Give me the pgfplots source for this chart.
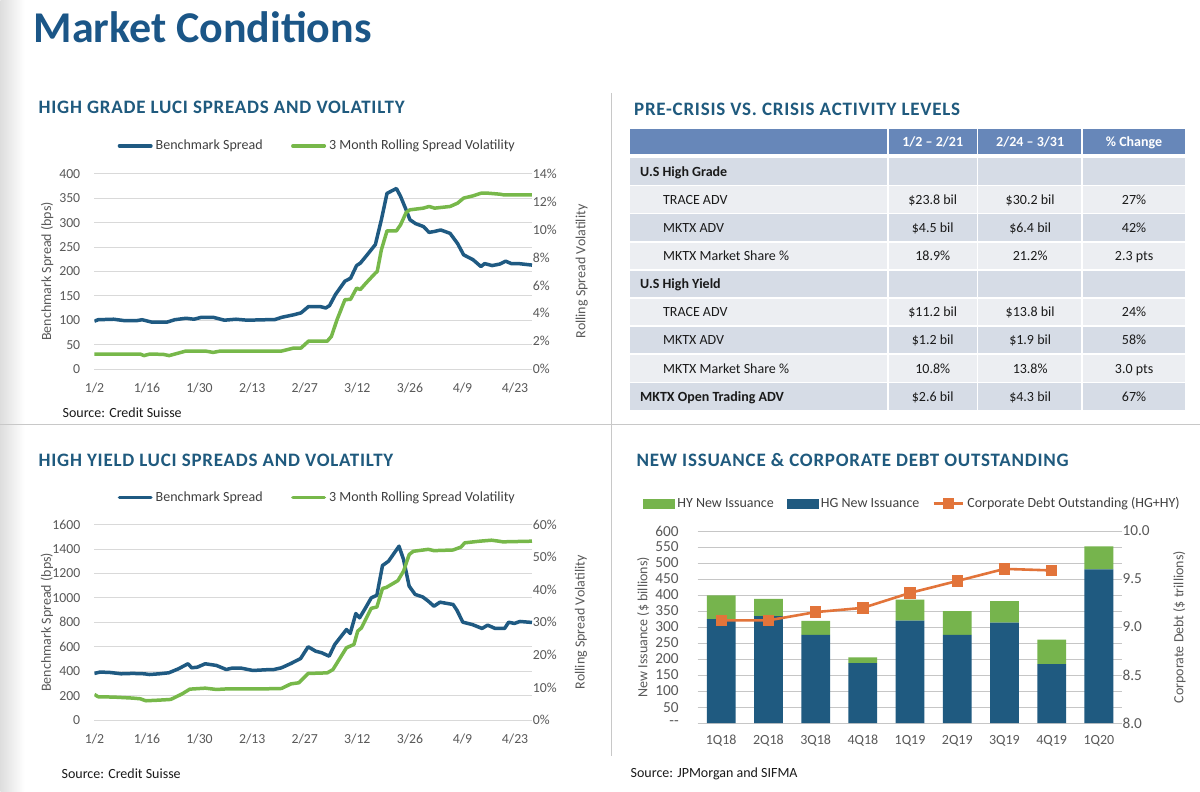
\documentclass[border=0pt]{standalone}
\usepackage{fontspec}
\setmainfont{Carlito}
\newfontfamily\secfont[LetterSpace=4]{Carlito}
\usepackage{pgfplots}
\pgfplotsset{compat=1.18}
\usepackage{pgfplotstable}
\definecolor{titleblue}{HTML}{1B5687}
\definecolor{secblue}{HTML}{1F5A7E}
\definecolor{lblue}{HTML}{1F5A82}
\definecolor{lgreen}{HTML}{77B84A}
\definecolor{bblue}{HTML}{1F5A80}
\definecolor{bgreen}{HTML}{76B44D}
\definecolor{dorange}{HTML}{E2743A}
\definecolor{gridgray}{HTML}{D9D9D9}
\definecolor{gridgray2}{HTML}{C6C6C6}
\definecolor{tickgray}{HTML}{595959}
\definecolor{legtext}{HTML}{404040}
\definecolor{hdrblue}{HTML}{6787B9}
\definecolor{rowdark}{HTML}{D6DCE6}
\definecolor{rowlight}{HTML}{ECEEF2}
\definecolor{divgray}{HTML}{C8C8C8}
\definecolor{tabtext}{HTML}{1A1A1A}

\pgfplotsset{
  lineax/.style={
    scale only axis, anchor=south west,
    axis line style={draw=none}, major tick length=0pt, tick style={draw=none},
    /pgf/number format/assume math mode=true, /pgf/number format/1000 sep={},
    ticklabel style={font=\fontsize{13.8}{16}\selectfont, text=tickgray, inner sep=0pt},
    ylabel style={font=\fontsize{14}{16}\selectfont, text=tickgray, anchor=center},
    grid style={gridgray, line width=0.9pt},
    xmin=0, xmax=116.6,
    xticklabel style={anchor=center, yshift=-19pt},
    yticklabel style={anchor=east, xshift=-14pt},
  },
  leg/.style={legend cell align=left,
    legend style={anchor=west, draw=none, fill=none, inner sep=0pt, outer sep=0pt,
      font=\fontsize{14}{16}\selectfont,
      nodes={inner sep=0pt, font=\fontsize{14}{16}\selectfont, text=legtext},
      /tikz/every odd column/.append style={column sep=3pt},
      /tikz/every even column/.append style={column sep=#1}}},
  lineimg/.style={legend image code/.code={\draw[##1, line cap=round] (0pt,0pt) -- (31.5pt,0pt);}},
  markimg/.style={legend image code/.code={\draw[mark repeat=2, mark phase=2, ##1] plot coordinates {(0pt,0pt) (14.7pt,0pt) (29.4pt,0pt)};}},
  hyimg/.style={legend image code/.code={\fill[bgreen] (0pt,-4.2pt) rectangle (30.7pt,4.2pt);}},
  hgimg/.style={legend image code/.code={\fill[bblue] (0pt,-4.2pt) rectangle (30.7pt,4.2pt);}},
}

\pgfplotstableread{
d v
0 98
1 101
5.1 102
8.1 99
11.2 99
12.7 101
15.3 96
19.3 96
21.4 101
24.4 104
26.5 102
28.5 106
31.6 106
34.6 100
37.7 102
40.7 100
45.8 101
47.9 101
49.9 106
53 111
55 115
57 128
60.1 128
61.6 125
62.6 130
64.2 153
66.7 180
68.2 186
69.8 212
70.8 217
72.3 231
74.8 255
76.4 306
77.9 360
80.4 370
81.5 354
83 326
84 306
85.5 298
87.6 292
89.1 280
90.6 282
92.2 285
94.7 278
96.7 257
98.3 234
100.8 224
102.9 210
103.9 216
105.9 212
107.9 215
109.5 221
111 216
113 216
116.5 213
}\hgspread

\pgfplotstableread{
d v
0 1.07
12.2 1.07
13.2 0.96
14.7 1.07
18.3 1.05
19.9 0.96
21.4 1.07
24.4 1.29
29.5 1.29
31.6 1.19
33.6 1.29
49.9 1.29
53 1.5
55 1.5
57 2.0
62 2.0
63.1 2.34
64.6 3.54
66.7 4.97
68.2 5.0
69.8 5.8
70.8 5.7
72.3 6.16
74.8 6.88
75.3 7.0
76.4 8.55
77.9 9.91
80.4 9.91
81.5 10.34
83 11.23
84 11.42
87.6 11.54
89.1 11.66
90.6 11.54
94.7 11.66
96.7 11.9
98.3 12.26
100.8 12.42
102.9 12.61
104.9 12.61
108 12.54
109 12.49
116.5 12.49
}\hgvol

\pgfplotstableread{
d v
0 382
1.5 393
4.1 390
7.1 379
10.2 382
13.2 379
14.7 373
17.3 379
19.8 387
22.4 420
24.9 461
25.9 428
27.4 433
29.5 461
32.5 447
35.1 414
36.6 425
39.1 425
42.2 406
45.7 412
47.8 414
49.8 428
52.3 463
54.9 504
56.9 600
58.9 564
60.5 551
62.5 523
64 619
67.1 741
68.1 709
69.6 872
70.6 837
72.2 919
73.7 1000
75.2 1022
76.7 1265
78.3 1300
81.1 1423
82.3 1314
83.8 1096
85.4 1028
87.4 1008
88.9 973
90.4 932
92 965
94 954
95.5 946
96.5 900
98.1 801
100.6 782
103.2 750
104.7 777
106.7 750
109.2 750
110.3 801
111.8 791
113.3 807
116.5 799
}\hyspread

\pgfplotstableread{
d v
0 7.87
1 7.16
5.1 7.06
10.2 6.75
12.2 6.54
13.7 5.93
17.3 6.13
20.3 6.34
21.8 7.16
23.4 8.08
25.4 9.5
29.5 9.8
32.5 9.4
35.6 9.6
45.7 9.6
49.8 9.7
52.3 11.1
54.4 11.45
56.9 14.3
62 14.5
63.5 15.5
67.1 22.2
69.1 23.2
70.1 27.3
71.1 28.3
73.7 34.3
75.2 34.7
76.7 40.4
77.7 40.7
80.8 42.8
82.3 45.7
83.8 50.8
84.9 51.8
88.9 52.4
90.4 52.0
95.5 52.2
97.6 53.1
98.6 54.4
102.6 54.9
105.7 55.2
107.7 54.9
108.7 54.7
116.5 54.9
}\hyvol

\newcommand\tabfont{\fontsize{14}{16}\selectfont}
\newcommand\tl[3]{\node[anchor=base west,inner sep=0pt,font=\tabfont,text=tabtext] at (#1,#2) {#3};}
\newcommand\tc[3]{\node[anchor=base,inner sep=0pt,font=\tabfont,text=tabtext] at (#1,#2) {#3};}
\newcommand\tv[4]{\tc{933}{#1}{#2}\tc{1030.5}{#1}{#3}\tc{1134.5}{#1}{#4}}

\begin{document}
\begin{tikzpicture}[x=1pt,y=1pt]
\fill[white] (0,0) rectangle (1200,792);
\shade[left color=black!13, right color=white] (0,0) rectangle (24,792);
\draw[divgray, line width=1pt] (611.5,792-93) -- (611.5,792-757);
\draw[divgray, line width=1pt] (0,792-425) -- (1200,792-425);

% titles
\node[anchor=base west, inner sep=0pt, text=titleblue, font=\fontsize{44}{50}\selectfont\bfseries] at (33,792-43) {Market Conditions};
\node[anchor=base west, inner sep=0pt, text=secblue, font=\secfont\fontsize{19}{22}\selectfont\bfseries] at (38,792-114) {HIGH GRADE LUCI SPREADS AND VOLATILTY};
\node[anchor=base west, inner sep=0pt, text=secblue, font=\secfont\fontsize{19}{22}\selectfont\bfseries] at (38,792-467) {HIGH YIELD LUCI SPREADS AND VOLATILTY};
\node[anchor=base west, inner sep=0pt, text=secblue, font=\secfont\fontsize{19}{22}\selectfont\bfseries] at (634,792-116) {PRE-CRISIS VS. CRISIS ACTIVITY LEVELS};
\node[anchor=base west, inner sep=0pt, text=secblue, font=\secfont\fontsize{19}{22}\selectfont\bfseries] at (636.5,792-467) {NEW ISSUANCE \& CORPORATE DEBT OUTSTANDING};

% sources
\node[anchor=west, inner sep=0pt, font=\tabfont, text=tabtext] at (62,792-412.7) {Source: Credit Suisse};
\node[anchor=west, inner sep=0pt, font=\tabfont, text=tabtext] at (61,792-774.3) {Source: Credit Suisse};
\node[anchor=west, inner sep=0pt, font=\tabfont, text=tabtext] at (630.5,792-774) {Source: JPMorgan and SIFMA};

% ---------- HG chart ----------
\begin{axis}[lineax, leg=28.5pt, lineimg, legend columns=2,
  at={(94pt,422.7pt)}, width=438.3pt, height=195.3pt,
  ymin=0, ymax=400, ytick={0,50,...,400},
  xtick={0,14,...,112}, xticklabels={1/2,1/16,1/30,2/13,2/27,3/12,3/26,4/9,4/23},
  ymajorgrids, ylabel={Benchmark Spread (bps)},
  ylabel style={at={(axis description cs:-0.1079,0.5)}},
  legend style={at={(axis description cs:0.0532,1.1434)}}]
\addplot[lblue, line width=3.5pt, line join=round] table[x=d,y=v]{\hgspread};
\addlegendentry{Benchmark Spread}
\addlegendimage{lgreen, line width=3.5pt}
\addlegendentry{3 Month Rolling Spread Volatility}
\end{axis}
\begin{axis}[lineax, at={(94pt,422.7pt)}, width=438.3pt, height=195.3pt,
  ymin=0, ymax=14, ytick={0,2,...,14}, xtick=\empty, axis x line=none, axis y line*=right,
  yticklabel={\pgfmathprintnumber{\tick}\%}, yticklabel style={anchor=west, xshift=14.4pt},
  ylabel={Rolling Spread Volatility},
  ylabel style={at={(axis description cs:1.1127,0.5)}, anchor=center}]
\addplot[lgreen, line width=3.5pt, line join=round] table[x=d,y=v]{\hgvol};
\end{axis}

% ---------- HY chart ----------
\begin{axis}[lineax, leg=28.5pt, lineimg, legend columns=2,
  at={(94pt,71.3pt)}, width=438.3pt, height=195.7pt,
  ymin=0, ymax=1600, ytick={0,200,...,1600},
  xtick={0,14,...,112}, xticklabels={1/2,1/16,1/30,2/13,2/27,3/12,3/26,4/9,4/23},
  ymajorgrids, ylabel={Benchmark Spread (bps)},
  ylabel style={at={(axis description cs:-0.1085,0.5)}},
  legend style={at={(axis description cs:0.0532,1.1395)}}]
\addplot[lblue, line width=3.5pt, line join=round] table[x=d,y=v]{\hyspread};
\addlegendentry{Benchmark Spread}
\addlegendimage{lgreen, line width=3.5pt}
\addlegendentry{3 Month Rolling Spread Volatility}
\end{axis}
\begin{axis}[lineax, at={(94pt,71.3pt)}, width=438.3pt, height=195.7pt,
  ymin=0, ymax=60, ytick={0,10,...,60}, xtick=\empty, axis x line=none, axis y line*=right,
  yticklabel={\pgfmathprintnumber{\tick}\%}, yticklabel style={anchor=west, xshift=14.4pt},
  ylabel={Rolling Spread Volatility},
  ylabel style={at={(axis description cs:1.111,0.5)}, anchor=center}]
\addplot[lgreen, line width=3.5pt, line join=round] table[x=d,y=v]{\hyvol};
\end{axis}

% ---------- Issuance chart ----------
\begin{axis}[lineax, at={(697.7pt,68.3pt)}, width=425.2pt, height=192.2pt,
  xmin=-0.5, xmax=8.5, ymin=0, ymax=600, ybar stacked, bar width=28.8pt,
  ytick={0,50,...,600}, yticklabels={{-{}-},50,100,150,200,250,300,350,400,450,500,550,600},
  yticklabel style={font=\fontsize{15.3}{17}\selectfont, xshift=-4.7pt},
  xtick={0,...,8}, xticklabels={1Q18,2Q18,3Q18,4Q18,1Q19,2Q19,3Q19,4Q19,1Q20},
  xticklabel style={font=\fontsize{14}{16}\selectfont, yshift=1pt},
  ymajorgrids, grid style={gridgray2, line width=0.9pt},
  ylabel={New Issuance (\$ billions)},
  ylabel style={at={(axis description cs:-0.128,0.5)}}]
\addplot[fill=bblue, draw=none] coordinates {(0,325) (1,334) (2,276) (3,187) (4,320) (5,276) (6,314) (7,184) (8,480)};
\addplot[fill=bgreen, draw=none] coordinates {(0,74) (1,54) (2,43) (3,18) (4,66) (5,74) (6,67) (7,77) (8,72)};
\end{axis}
\begin{axis}[lineax, leg=13pt, legend columns=3, at={(697.7pt,68.3pt)}, width=425.2pt, height=192.2pt,
  xmin=-0.5, xmax=8.5, ymin=8, ymax=10, ytick={8,8.5,...,10}, xtick=\empty, axis x line=none, axis y line*=right,
  yticklabel style={anchor=west, xshift=13.9pt, font=\fontsize{15.3}{17}\selectfont, /pgf/number format/fixed, /pgf/number format/fixed zerofill, /pgf/number format/precision=1},
  ylabel={Corporate Debt (\$ trillions)},
  ylabel style={at={(axis description cs:1.134,0.5)}, anchor=center},
  legend style={at={(axis description cs:-0.128,1.143)}}]
\addlegendimage{hyimg}
\addlegendentry{HY New Issuance}
\addlegendimage{hgimg}
\addlegendentry{HG New Issuance}
\addplot[dorange, line width=2.6pt, mark=square*, mark size=4.4pt, mark options={solid}, markimg]
  coordinates {(0,9.07) (1,9.07) (2,9.156) (3,9.20) (4,9.356) (5,9.48) (6,9.606) (7,9.59)};
\addlegendentry{Corporate Debt Outstanding (HG+HY)}
\end{axis}

% ---------- table ----------
\fill[hdrblue] (629.8,638) rectangle (887,662.7);
\fill[hdrblue] (889.3,638) rectangle (977,662.7);
\fill[hdrblue] (978.7,638) rectangle (1081.7,662.7);
\fill[hdrblue] (1083.3,638) rectangle (1185.7,662.7);
\foreach \i in {0,...,8}{
  \pgfmathsetmacro\yt{633.7-28.17*\i}
  \pgfmathsetmacro\yb{\yt-26.4}
  \ifodd\i \def\rc{rowlight}\else\def\rc{rowdark}\fi
  \fill[\rc] (629.8,\yb) rectangle (887,\yt);
  \fill[\rc] (889.3,\yb) rectangle (977,\yt);
  \fill[\rc] (978.7,\yb) rectangle (1081.7,\yt);
  \fill[\rc] (1083.3,\yb) rectangle (1185.7,\yt);
}
\node[anchor=base,inner sep=0pt,font=\tabfont\bfseries,text=white] at (933,645.5) {1/2 – 2/21};
\node[anchor=base,inner sep=0pt,font=\tabfont\bfseries,text=white] at (1030.5,645.5) {2/24 – 3/31};
\node[anchor=base,inner sep=0pt,font=\tabfont\bfseries,text=white] at (1134.5,645.5) {\% Change};
\tl{640}{615.8}{\textbf{U.S High Grade}}
\tl{663}{587.6}{TRACE ADV}\tv{587.6}{\$23.8 bil}{\$30.2 bil}{27\%}
\tl{663}{559.5}{MKTX ADV}\tv{559.5}{\$4.5 bil}{\$6.4 bil}{42\%}
\tl{663}{531.3}{MKTX Market Share \%}\tv{531.3}{18.9\%}{21.2\%}{2.3 pts}
\tl{640}{503.1}{\textbf{U.S High Yield}}
\tl{663}{475.0}{TRACE ADV}\tv{475.0}{\$11.2 bil}{\$13.8 bil}{24\%}
\tl{663}{446.8}{MKTX ADV}\tv{446.8}{\$1.2 bil}{\$1.9 bil}{58\%}
\tl{663}{418.6}{MKTX Market Share \%}\tv{418.6}{10.8\%}{13.8\%}{3.0 pts}
\tl{640}{390.5}{\textbf{MKTX Open Trading ADV}}\tv{390.5}{\$2.6 bil}{\$4.3 bil}{67\%}
\end{tikzpicture}
\end{document}
